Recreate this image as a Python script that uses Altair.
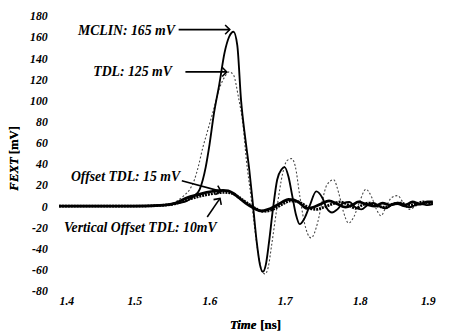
import altair as alt
import pandas as pd

# ---- data ----
mclin_t = [1.40, 1.50, 1.54, 1.56, 1.57, 1.58, 1.587, 1.595, 1.600, 1.606, 1.613, 1.620, 1.626, 1.632, 1.637,
           1.642, 1.648, 1.653, 1.658, 1.663, 1.667, 1.671, 1.675, 1.679, 1.684, 1.690, 1.696, 1.700, 1.705,
           1.710, 1.715, 1.720, 1.726, 1.733, 1.742, 1.750, 1.756, 1.763, 1.770, 1.778, 1.786, 1.794, 1.802,
           1.810, 1.818, 1.826, 1.834, 1.842, 1.850, 1.858, 1.866, 1.874, 1.882, 1.890, 1.897]
mclin_v = [0, 0, 1, 3, 5, 10, 16, 37, 58, 88, 115, 145, 160, 165, 152,
           100, 62, 34, 0, -35, -55, -62, -55, -35, -5, 25, 35, 37, 28,
           10, -8, -17, -12, 0, 14, 8, -2, -6, -3, 3, 4, -1, -3,
           1, 3, 0, -2, 1, 2, 0, -1, 1, 2, 1, 2]

tdl_t = [1.40, 1.50, 1.54, 1.557, 1.566, 1.574, 1.580, 1.585, 1.591, 1.597, 1.605, 1.613, 1.620, 1.626, 1.632,
         1.638, 1.645, 1.649, 1.655, 1.660, 1.666, 1.670, 1.674, 1.678, 1.683, 1.690, 1.697, 1.703, 1.709,
         1.714, 1.720, 1.726, 1.735, 1.744, 1.750, 1.756, 1.765, 1.772, 1.778, 1.785, 1.792, 1.800, 1.808,
         1.816, 1.822, 1.828, 1.835, 1.842, 1.850, 1.858, 1.866, 1.874, 1.882, 1.890, 1.897]
tdl_v = [0, 0, 1, 5, 10, 16, 25, 37, 55, 70, 90, 111, 122, 127, 124,
         105, 74, 44, 10, -20, -50, -62, -64, -58, -35, 0, 30, 43, 45,
         38, 10, -15, -30, -15, 5, 20, 25, 12, -5, -16, -10, 5, 16,
         8, -3, -9, 0, 8, 10, 3, -3, 0, 3, 2, 3]

off_t = [1.40, 1.50, 1.54, 1.555, 1.570, 1.585, 1.596, 1.608, 1.618, 1.625, 1.632, 1.639, 1.648, 1.657, 1.668,
         1.678, 1.687, 1.697, 1.705, 1.712, 1.720, 1.729, 1.738, 1.748, 1.759, 1.770, 1.781, 1.790, 1.798,
         1.808, 1.820, 1.830, 1.840, 1.850, 1.860, 1.870, 1.880, 1.890, 1.897]
off_v = [0, 0, 1, 3, 8, 11, 13, 14.5, 15, 14.5, 12, 8, 3, -1, -4.5,
         -3, 0, 4, 6.5, 6, 3, -2, -1, 2, 5, 2, -1, 1, 4,
         2, 0, 3, 1, 3, 1, 4, 2, 4, 4]

voff_t = [1.40, 1.50, 1.54, 1.555, 1.570, 1.585, 1.598, 1.610, 1.620, 1.628, 1.636, 1.644, 1.652, 1.661, 1.671,
          1.681, 1.690, 1.700, 1.708, 1.716, 1.724, 1.733, 1.742, 1.752, 1.763, 1.774, 1.785, 1.794, 1.803,
          1.812, 1.824, 1.834, 1.844, 1.854, 1.864, 1.874, 1.884, 1.893, 1.897]
voff_v = [0, 0, 1, 2.5, 6, 9, 11, 12.5, 13, 12.5, 10, 6, 2, -2, -5,
          -4, -1, 3, 5, 4.5, 2, -2, -3, -1, 2, 4, 1, -2, 1,
          3, 0, -1, 2, 3, 1, 2, 4, 3, 3]

y_ticks = [-80, -60, -40, -20, 0, 20, 40, 60, 80, 100, 120, 140, 160, 180]
x_ticks = [1.4, 1.5, 1.6, 1.7, 1.8, 1.9]

# annotations: label, text anchor (t, v), alignment, arrow start, arrow end, arrowhead angle
ann_text = ["MCLIN: 165 mV", "TDL: 125 mV", "Offset TDL: 15 mV", "Vertical Offset TDL: 10mV"]
ann_tx = [1.554, 1.550, 1.561, 1.508]
ann_tv = [166, 127, 28, -20.5]
ann_align = ["right", "right", "right", "center"]
arr_t0 = [1.559, 1.568, 1.5632, 1.597]
arr_v0 = [167, 127, 24, -10.2]
arr_t1 = [1.627, 1.623, 1.6154, 1.614]
arr_v1 = [167, 127, 14, 7.4]
arr_ang = [0, 0, 15, 304]

FONT = "Liberation Serif"
W, H = 383, 280

xs = alt.Scale(domain=[1.4, 1.9], nice=False, zero=False)
ys = alt.Scale(domain=[-80, 180], nice=False, zero=False)

x_axis = alt.Axis(values=x_ticks, format=".1f", title=None, domain=False, ticks=False, grid=False,
                  labelFont=FONT, labelFontSize=12, labelFontWeight="bold", labelFontStyle="italic",
                  labelPadding=5, labelColor="black")
y_axis = alt.Axis(values=y_ticks, labelExpr="toString(datum.value)", title=None, domain=False,
                  ticks=False, grid=False, labelFont=FONT, labelFontSize=12, labelFontWeight="bold",
                  labelFontStyle="italic", labelPadding=12, labelColor="black")


def X(f):
    return alt.X(f, scale=xs, axis=x_axis)


def Y(f):
    return alt.Y(f, scale=ys, axis=y_axis)


def line(t, v, color, width, dash=None):
    df = pd.DataFrame({"t": t, "v": v})
    kw = dict(color=color, strokeWidth=width, interpolate="monotone")
    if dash:
        kw["strokeDash"] = dash
    return alt.Chart(df).mark_line(**kw).encode(x=X("t:Q"), y=Y("v:Q"))


axes_df = pd.DataFrame({"t": [1.4, 1.9], "v": [-80, 180]})

l_tdl = line(tdl_t, tdl_v, "#444444", 1.1, [2, 2])
l_mclin = line(mclin_t, mclin_v, "black", 1.9)
l_voff = line(voff_t, voff_v, "black", 2.8, [2, 1])
l_off = line(off_t, off_v, "black", 2.8)

ann_df = pd.DataFrame({"text": ann_text, "tx": ann_tx, "tv": ann_tv, "align": ann_align,
                       "t0": arr_t0, "v0": arr_v0, "t1": arr_t1, "v1": arr_v1, "ang": arr_ang})

texts_r = alt.Chart(ann_df[ann_df["align"] == "right"]).mark_text(
    font=FONT, fontSize=14, fontWeight="bold", fontStyle="italic", align="right", baseline="middle",
    color="black").encode(x=X("tx:Q"), y=Y("tv:Q"), text="text:N")
texts_c = alt.Chart(ann_df[ann_df["align"] == "center"]).mark_text(
    font=FONT, fontSize=14, fontWeight="bold", fontStyle="italic", align="center", baseline="middle",
    color="black").encode(x=X("tx:Q"), y=Y("tv:Q"), text="text:N")

arrows = alt.Chart(ann_df).mark_rule(color="black", strokeWidth=1.6).encode(
    x=X("t0:Q"), y=Y("v0:Q"), x2="t1:Q", y2="v1:Q")
heads = alt.Chart(ann_df).mark_point(shape="M-1,-1L0,0L-1,1", filled=False, color="black",
                                     strokeWidth=1.6, size=90, opacity=1).encode(
    x=X("t1:Q"), y=Y("v1:Q"), angle=alt.Angle("ang:Q", scale=None))

# axis titles with mixed styles
title_style = dict(font=FONT, fontSize=13, fontWeight="bold", color="black", baseline="middle")
t_time = alt.Chart(axes_df).mark_text(text="Time", fontStyle="italic", align="right", **title_style).encode(
    x=alt.value(201), y=alt.value(315))
t_ns = alt.Chart(axes_df).mark_text(text="[ns]", align="left", **title_style).encode(
    x=alt.value(205), y=alt.value(315))
t_fext = alt.Chart(axes_df).mark_text(text="FEXT", fontStyle="italic", align="left", angle=270,
                                      **title_style).encode(x=alt.value(-46), y=alt.value(178))
t_mv = alt.Chart(axes_df).mark_text(text="[mV]", align="left", angle=270, **title_style).encode(
    x=alt.value(-46), y=alt.value(141))

chart = alt.layer(
    l_tdl, l_mclin, l_voff, l_off, arrows, heads, texts_r, texts_c, t_time, t_ns, t_fext, t_mv
).properties(
    width=W, height=H, autosize=alt.AutoSizeParams(type="none"),
    padding={"left": 52, "top": 5, "right": 6, "bottom": 40}, background="white",
).configure_view(strokeWidth=0, stroke=None)

chart.save("out.html", embed_options={"renderer": "svg", "actions": False})
